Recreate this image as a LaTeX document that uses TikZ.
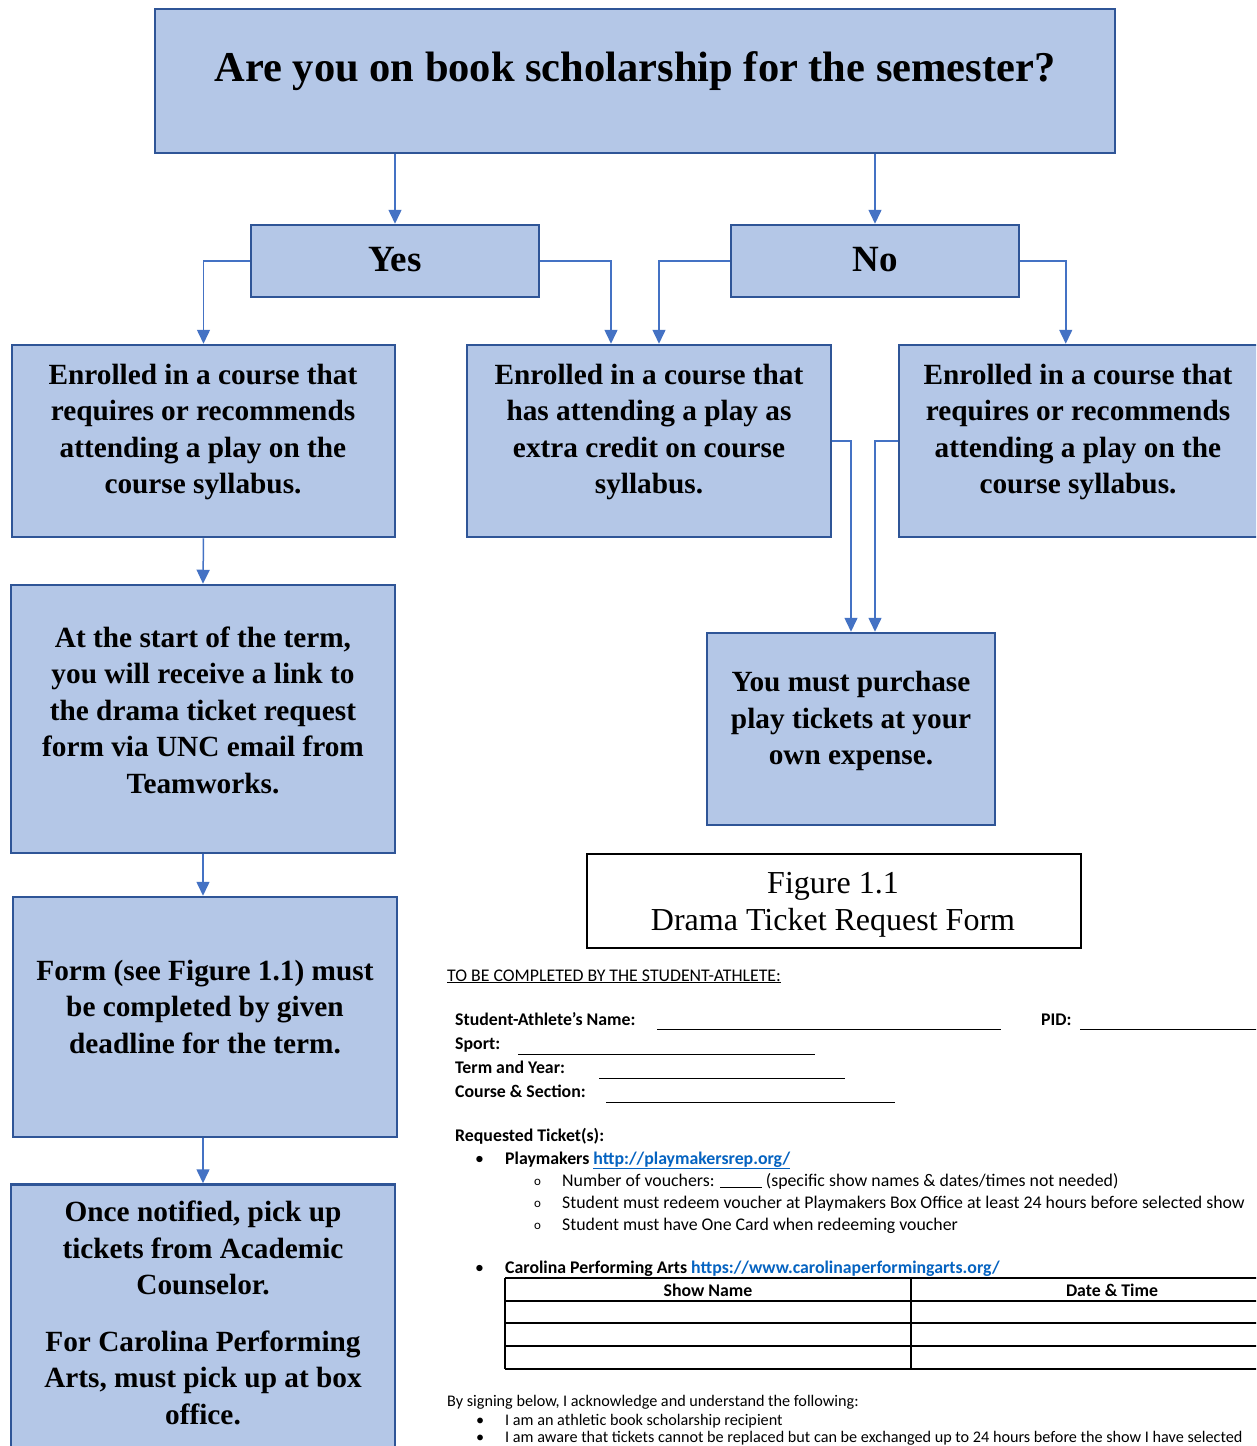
\documentclass[tikz,border=0pt]{standalone}
\usepackage{fontspec}
\setmainfont{Liberation Serif}
\newfontfamily\calibri{Carlito}
\usetikzlibrary{arrows.meta,calc}
\definecolor{boxfill}{HTML}{B4C7E7}
\definecolor{boxline}{HTML}{2F5597}
\definecolor{arrowc}{HTML}{4472C4}
\definecolor{linkc}{HTML}{0563C1}
\begin{document}
\begin{tikzpicture}[x=1pt,y=-1pt,
  box/.style={draw=boxline, fill=boxfill, line width=2.5pt, inner sep=0pt},
  btext/.style={font=\bfseries\fontsize{29.3}{36.5}\selectfont, align=center, inner sep=0pt},
  arr/.style={draw=arrowc, line width=1.5pt, -{Triangle[width=13pt,length=14pt]}},
  ftext/.style={font=\calibri\fontsize{17.8}{21}\selectfont, anchor=base west, inner sep=0pt},
  fbold/.style={font=\calibri\bfseries\fontsize{17.8}{21}\selectfont, anchor=base west, inner sep=0pt},
  fsmall/.style={font=\calibri\fontsize{16.2}{19}\selectfont, anchor=base west, inner sep=0pt},
  fcirc/.style={font=\calibri\fontsize{13}{15}\selectfont, anchor=base west, inner sep=0pt},
  fline/.style={line width=1pt},
  tline/.style={line width=1.3pt},
]
\useasboundingbox (0,0) rectangle (1256,1446);
\clip (0,0) rectangle (1256,1446);
\fill[white] (0,0) rectangle (1256,1446);

% boxes
\node[box, minimum width=960pt, minimum height=144pt] (top) at (635,81) {};
\node[box, minimum width=288pt, minimum height=72pt] (yes) at (395,261) {};
\node[box, minimum width=288pt, minimum height=72pt] (no) at (875,261) {};
\node[box, minimum width=383pt, minimum height=192pt] (l1) at (203.5,441) {};
\node[box, minimum width=364pt, minimum height=192pt] (m1) at (649,441) {};
\node[box, minimum width=360pt, minimum height=192pt] (r1) at (1079,441) {};
\node[box, minimum width=384pt, minimum height=268pt] (l2) at (203,719) {};
\node[box, minimum width=288pt, minimum height=192pt] (pur) at (851,729) {};
\node[box, minimum width=384pt, minimum height=240pt] (l3) at (205,1017) {};
\node[box, minimum width=384pt, minimum height=275pt] (l4) at (203,1322) {};
\node[draw=black, line width=1.5pt, fill=white, minimum width=494pt, minimum height=94pt, inner sep=0pt] (fig) at (834,901) {};

% texts
\node[inner sep=0pt, font=\bfseries\fontsize{42.5}{48}\selectfont] (topt) at (635,71) {Are you on book scholarship for the semester?};
\node[inner sep=0pt, font=\bfseries\fontsize{37}{40}\selectfont] (yest) at (395,260) {Yes};
\node[inner sep=0pt, font=\bfseries\fontsize{37}{40}\selectfont] (not) at (875,260) {No};
\node[btext] (l1t) at (203,432) {Enrolled in a course that\\requires or recommends\\attending a play on the\\course syllabus.};
\node[btext] (m1t) at (649,432) {Enrolled in a course that\\has attending a play as\\extra credit on course\\syllabus.};
\node[btext] (r1t) at (1078,432) {Enrolled in a course that\\requires or recommends\\attending a play on the\\course syllabus.};
\node[btext] (l2t) at (203,710) {At the start of the term,\\you will receive a link to\\the drama ticket request\\form via UNC email from\\Teamworks.};
\node[btext] (purt) at (851,721) {You must purchase\\play tickets at your\\own expense.};
\node[btext] (l3t) at (205,1007) {Form (see Figure 1.1) must\\be completed by given\\deadline for the term.};
\node[btext, anchor=north] (l4t) at (203,1201) {Once notified, pick up\\tickets from Academic\\Counselor.\\[20pt]For Carolina Performing\\Arts, must pick up at box\\office.};
\node[inner sep=0pt, align=center, font=\fontsize{32}{37}\selectfont] (figt) at (833,905) {Figure 1.1\\Drama Ticket Request Form};

% connectors
\draw[arr] (top.south -| yes.north) -- (yes.north);
\draw[arr] (top.south -| no.north) -- (no.north);
\draw[arr] (yes.west) -| (l1.north);
\draw[arr] (yes.east) -| ([xshift=-38pt]m1.north);
\draw[arr] (no.west) -| ([xshift=10pt]m1.north);
\draw[arr] (no.east) -| ([xshift=168pt]r1.north west);
\draw[arr] (m1.east) -| (pur.north);
\draw[arr] (r1.west) -| ([xshift=24pt]pur.north);
\draw[arr] (l1.south) -- (l2.north);
\draw[arr] (l2.south) -- (l2.south |- l3.north);
\draw[arr] (l3.south -| l2.south) -- (l4.north);

% form
\node[ftext] (hdr) at (447,981) {\underline{TO BE COMPLETED BY THE STUDENT-ATHLETE:}};
\node[fbold] (fname) at (455,1025) {Student-Athlete’s Name:};
\draw[fline] (657,1029) -- (1001,1029);
\node[fbold] (fpid) at (1041,1025) {PID:};
\draw[fline] (1080,1029) -- (1260,1029);
\node[fbold] (fsport) at (455,1049) {Sport:};
\draw[fline] (518,1054) -- (815,1054);
\node[fbold] (fterm) at (455,1073) {Term and Year:};
\draw[fline] (599,1078) -- (845,1078);
\node[fbold] (fcourse) at (455,1097) {Course \& Section:};
\draw[fline] (606,1102) -- (895,1102);
\node[fbold] (freq) at (455,1141) {Requested Ticket(s):};
\node[ftext] (b1) at (475,1164) {•};
\node[fbold] (fplay) at (505,1164) {Playmakers \textcolor{linkc}{\underline{http://playmakersrep.org/}}};
\node[fcirc] (c1) at (534,1185) {o};
\node[ftext] (s1) at (562,1186) {Number of vouchers: \underline{\hspace{42pt}} (specific show names \& dates/times not needed)};
\node[fcirc] (c2) at (534,1207) {o};
\node[ftext] (s2) at (562,1208) {Student must redeem voucher at Playmakers Box Office at least 24 hours before selected show};
\node[fcirc] (c3) at (534,1229) {o};
\node[ftext] (s3) at (562,1230) {Student must have One Card when redeeming voucher};
\node[ftext] (b2) at (475,1273) {•};
\node[fbold] (fcpa) at (505,1273) {Carolina Performing Arts \textcolor{linkc}{\underline{https://www.carolinaperformingarts.org/}}};
% table
\draw[tline] (505,1278) -- (1260,1278);
\draw[tline] (505,1301) -- (1260,1301);
\draw[tline] (505,1323) -- (1260,1323);
\draw[tline] (505,1346) -- (1260,1346);
\draw[tline] (505,1369) -- (1260,1369);
\draw[tline] (505,1278) -- (505,1369);
\draw[tline] (911,1278) -- (911,1369);
\node[fbold, anchor=base] (th1) at (708,1296) {Show Name};
\node[fbold, anchor=base] (th2) at (1112,1296) {Date \& Time};
\node[fsmall] (sign) at (447,1406) {By signing below, I acknowledge and understand the following:};
\node[fsmall] (b3) at (476,1425) {•};
\node[fsmall] (a1) at (505,1425) {I am an athletic book scholarship recipient};
\node[fsmall] (b4) at (476,1442) {•};
\node[fsmall] (a2) at (505,1442) {I am aware that tickets cannot be replaced but can be exchanged up to 24 hours before the show I have selected};
\end{tikzpicture}
\end{document}
